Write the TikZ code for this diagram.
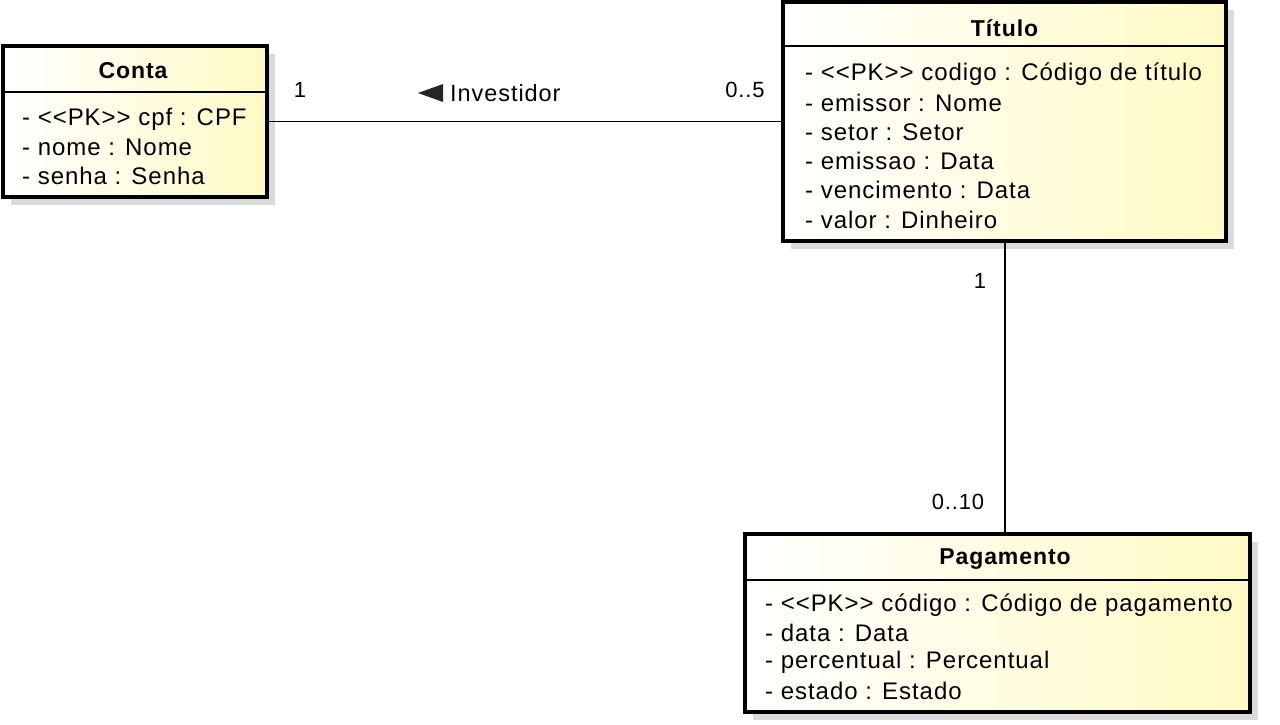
\documentclass[tikz,border=0pt]{standalone}
\usepackage{fontspec}
\newfontfamily\umlfont[LetterSpace=4]{Liberation Sans}
\definecolor{umlyellow}{RGB}{255,250,196}
\definecolor{shadowgray}{RGB}{218,218,218}
\begin{document}
\begin{tikzpicture}[x=1pt,y=-1pt,
  classbox/.style={draw=black, line width=3.2pt, left color=white, right color=umlyellow, inner sep=0pt, outer sep=0pt},
  shadowbox/.style={fill=shadowgray, draw=none, inner sep=0pt, outer sep=0pt},
  divline/.style={draw=black, line width=1.4pt},
  attr/.style={anchor=west, inner sep=0pt, font=\umlfont\fontsize{24}{28}\selectfont},
  ctitle/.style={inner sep=0pt, font=\umlfont\bfseries\fontsize{23}{27}\selectfont},
  mult/.style={inner sep=0pt, font=\umlfont\fontsize{22}{26}\selectfont},
  assoc/.style={draw=black, line width=1.6pt}
]
\useasboundingbox (0,0) rectangle (1280,724);

% ---- Conta ----
\node[shadowbox, minimum width=264pt, minimum height=151pt] (contash) at (143,129.5) {};
\node[classbox, minimum width=264pt, minimum height=151pt] (conta) at (135,121.5) {};
\draw[divline] (3,92) -- (267,92);
\node[ctitle] (contat) at (133,71) {Conta};
\node[attr] (c1) at (22,119) {- <<PK>> cpf : CPF};
\node[attr] (c2) at (22,147) {- nome : Nome};
\node[attr] (c3) at (22,176) {- senha : Senha};

% ---- Titulo ----
\node[shadowbox, minimum width=443pt, minimum height=239pt] (titsh) at (1012.5,129.5) {};
\node[classbox, minimum width=443pt, minimum height=239pt] (titulo) at (1004.5,121.5) {};
\draw[divline] (783,46) -- (1226,46);
\node[ctitle] (titt) at (1004.5,28) {Título};
\node[attr] (t1) at (805,74) {- <<PK>> codigo : Código de título};
\node[attr] (t2) at (805,103) {- emissor : Nome};
\node[attr] (t3) at (805,132) {- setor : Setor};
\node[attr] (t4) at (805,161) {- emissao : Data};
\node[attr] (t5) at (805,190) {- vencimento : Data};
\node[attr] (t6) at (805,220) {- valor : Dinheiro};

% ---- Pagamento ----
\node[shadowbox, minimum width=505pt, minimum height=178pt] (pagsh) at (1005.5,631) {};
\node[classbox, minimum width=505pt, minimum height=178pt] (pag) at (997.5,623) {};
\draw[divline] (745,580) -- (1250,580);
\node[ctitle] (pagt) at (1005,559) {Pagamento};
\node[attr] (p1) at (765,605) {- <<PK>> código : Código de pagamento};
\node[attr] (p2) at (765,633) {- data : Data};
\node[attr] (p3) at (765,662) {- percentual : Percentual};
\node[attr] (p4) at (765,691) {- estado : Estado};

% ---- associations ----
\draw[assoc] (conta.east) -- (titulo.west);
\coordinate (tb) at (1005,241);
\draw[assoc] (tb) -- (tb |- pag.north);

\node[mult] (m1) at (300,90) {1};
\node[mult] (m2) at (745,90) {0..5};
\node[mult, anchor=west, font=\umlfont\fontsize{23.5}{27}\selectfont] (inv) at (450,93) {Investidor};
\fill[black!85] (418,93) -- (443,84) -- (443,102) -- cycle;
\node[mult] (m3) at (980,281) {1};
\node[mult] (m4) at (958,502) {0..10};
\end{tikzpicture}
\end{document}
